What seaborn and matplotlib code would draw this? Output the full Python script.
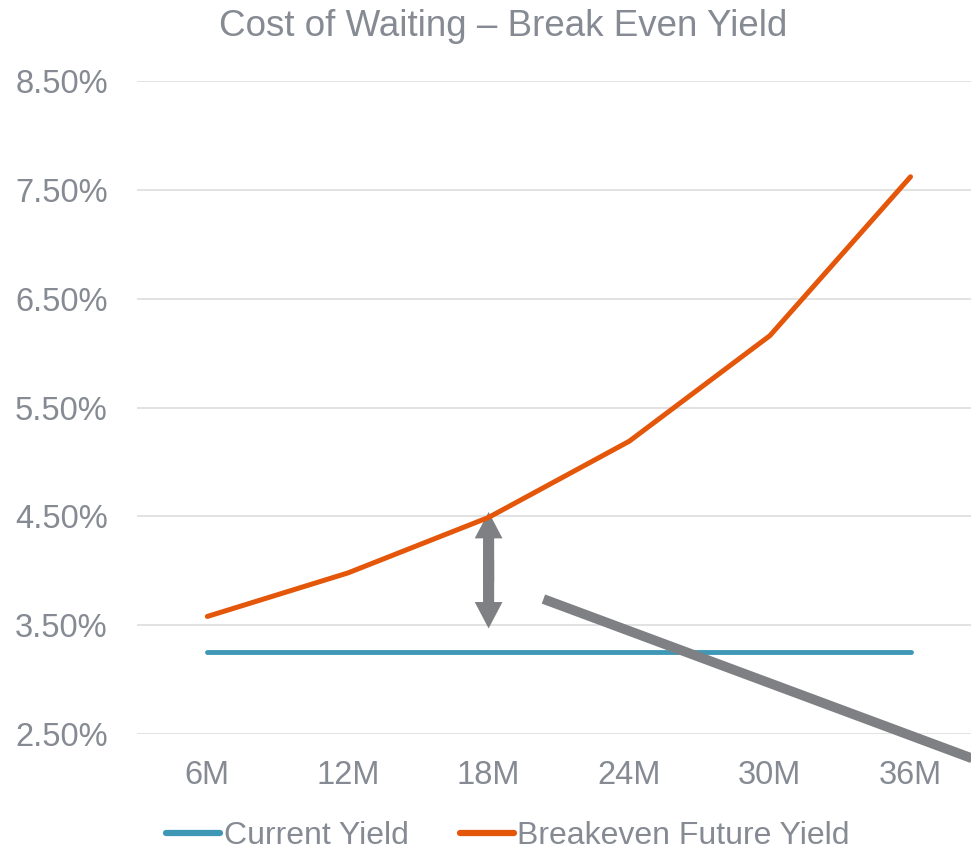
import matplotlib
matplotlib.use("Agg")
import matplotlib.pyplot as plt
from matplotlib.patches import FancyArrowPatch
import seaborn as sns
import pandas as pd

# Data
horizons = ["6M", "12M", "18M", "24M", "30M", "36M"]
current_yield = [3.25, 3.25, 3.25, 3.25, 3.25, 3.25]
breakeven_yield = [3.58, 3.98, 4.49, 5.19, 6.16, 7.62]
series_names = ["Current Yield", "Breakeven Future Yield"]
y_ticks = [2.5, 3.5, 4.5, 5.5, 6.5, 7.5, 8.5]

TEXT = "#858a93"
BLUE = "#3f97b6"
ORANGE = "#e4570a"
GREY = "#7f8084"

sns.set_theme(style="white")
plt.rcParams["font.family"] = ["Liberation Sans", "DejaVu Sans"]

df = pd.DataFrame({
    "horizon": horizons * 2,
    "yield": current_yield + breakeven_yield,
    "series": [series_names[0]] * len(horizons) + [series_names[1]] * len(horizons),
})

fig = plt.figure(figsize=(9.71, 8.51), dpi=100)
ax = fig.add_axes([137 / 971, 1 - 734 / 851, 1 - 137 / 971, (734 - 81) / 851])

sns.lineplot(data=df, x="horizon", y="yield", hue="series", sort=False,
             palette={series_names[0]: BLUE, series_names[1]: ORANGE},
             ax=ax, legend=False)
for line, lw in zip(ax.lines, [3.5, 3.6]):
    line.set_linewidth(lw)
    line.set_solid_capstyle("round")

ax.set_ylim(2.5, 8.5)
ax.set_xlim(-0.5, 5.43)
ax.set_yticks(y_ticks)
ax.set_yticklabels([f"{v:.2f}%" for v in y_ticks])
ax.yaxis.grid(True, color="#e2e2e2", linewidth=1.4)
ax.set_axisbelow(True)
for s in ax.spines.values():
    s.set_visible(False)
ax.tick_params(axis="y", length=0, pad=21, labelsize=23.5, labelcolor=TEXT)
ax.tick_params(axis="x", length=0, pad=19, labelsize=23.5, labelcolor=TEXT)
ax.set_xlabel("")
ax.set_ylabel("")

# Double-headed gap arrow at 18M between the two yield levels
for start, tip in ((3.9, 4.54), (4.1, 3.47)):
    arr = FancyArrowPatch((2, start), (2, tip),
                          arrowstyle="simple,head_width=20,head_length=19,tail_width=8",
                          mutation_scale=1, color=GREY, shrinkA=0, shrinkB=0, lw=0)
    ax.add_patch(arr)

# Falling trend line running off the right edge
ax.plot([2.39, 5.7], [3.74, 2.15], color=GREY, linewidth=7,
        solid_capstyle="butt", clip_on=False, zorder=3)

fig.text(0.518, 0.99, "Cost of Waiting – Break Even Yield", ha="center", va="top",
         fontsize=26.5, color=TEXT)

handles = [plt.Line2D([], [], color=BLUE, lw=4.5, solid_capstyle="round"),
           plt.Line2D([], [], color=ORANGE, lw=4.5, solid_capstyle="round")]
leg = fig.legend(handles, series_names, loc="center", bbox_to_anchor=(0.523, 1 - 836 / 851),
                 ncol=2, frameon=False, fontsize=23, handlelength=1.7, handletextpad=0.1,
                 columnspacing=1.6, borderaxespad=0)
for t in leg.get_texts():
    t.set_color(TEXT)

fig.savefig("out.png", dpi=100)
